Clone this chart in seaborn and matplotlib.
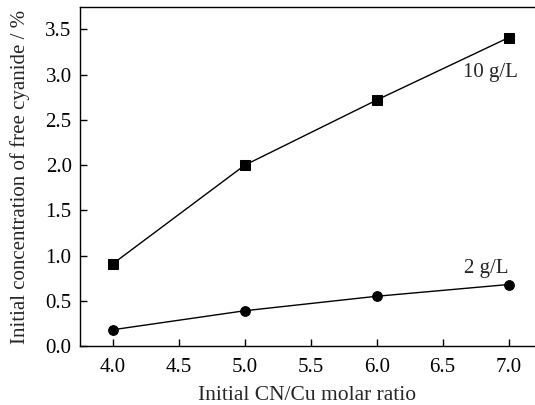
import matplotlib
matplotlib.use("Agg")
import matplotlib.pyplot as plt
import seaborn as sns
import pandas as pd

ratio = [4.0, 5.0, 6.0, 7.0]
cyanide_10 = [0.91, 2.00, 2.72, 3.41]
cyanide_2 = [0.18, 0.39, 0.55, 0.68]
series_labels = ["10 g/L", "2 g/L"]
x_ticks = [4.0, 4.5, 5.0, 5.5, 6.0, 6.5, 7.0]
y_ticks = [0.0, 0.5, 1.0, 1.5, 2.0, 2.5, 3.0, 3.5]

sns.set_style("ticks")
plt.rcParams["font.family"] = ["Liberation Serif", "DejaVu Serif"]
plt.rcParams["mathtext.fontset"] = "stix"

df = pd.concat([
    pd.DataFrame({"ratio": ratio, "conc": cyanide_10, "series": series_labels[0]}),
    pd.DataFrame({"ratio": ratio, "conc": cyanide_2, "series": series_labels[1]}),
])

fig = plt.figure(figsize=(5.35, 4.05), dpi=100)
ax = fig.add_axes([0.1495, 0.1457, 0.8505, 0.8373])

sns.lineplot(data=df, x="ratio", y="conc", hue="series", style="series",
             markers={"10 g/L": "s", "2 g/L": "o"}, dashes=False,
             palette={"10 g/L": "black", "2 g/L": "black"},
             markersize=7, markeredgecolor="black", linewidth=1.0,
             legend=False, ax=ax)

ax.set_xlim(3.75, 7.2)
ax.set_ylim(0, 3.75)
ax.set_xticks(x_ticks)
ax.set_xticklabels([f"{v:.1f}" for v in x_ticks])
ax.set_yticks(y_ticks)
ax.set_yticklabels([f"{v:.1f}" for v in y_ticks])
ax.tick_params(axis="x", direction="in", length=5, width=1, labelsize=15, colors="black", pad=9)
ax.tick_params(axis="y", direction="in", length=5, width=1, labelsize=15, colors="black", pad=6)
ax.set_xlabel("Initial CN/Cu molar ratio", fontsize=15.5, labelpad=6)
ax.set_ylabel("Initial concentration of free cyanide / %", fontsize=15, labelpad=11)

for s in ["left", "bottom", "top"]:
    ax.spines[s].set_color("black")
    ax.spines[s].set_linewidth(1.0)
ax.spines["right"].set_visible(False)

ax.text(6.86, 3.02, series_labels[0], fontsize=15, ha="center", va="center")
ax.text(6.83, 0.86, series_labels[1], fontsize=15, ha="center", va="center")

fig.savefig("out.png", dpi=100)
